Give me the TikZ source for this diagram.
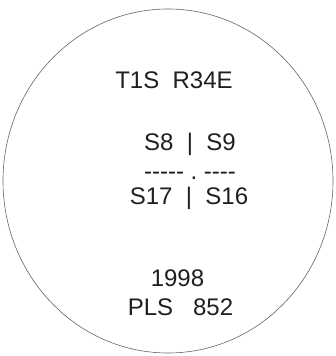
\documentclass[tikz,border=0pt]{standalone}
\usepackage{fontspec}
\setmainfont{Liberation Sans}
\newcommand\hy{-\kern0pt}
\tikzset{
  lbl/.style={anchor=base, inner sep=0pt, text=black!88, font=\fontsize{24}{28}\selectfont},
  rim/.style={draw=black!60, line width=0.6pt}
}
\begin{document}
\begin{tikzpicture}[x=1pt,y=1pt]
\useasboundingbox (0,0) rectangle (335,-356);
\fill[white] (0,0) rectangle (335,-356);
\draw[rim] (168,-181) ellipse [x radius=165, y radius=172];
\node[lbl] (tr) at (174,-88) {T1S~~R34E};
\node[lbl] (top) at (190,-150) {S8~~|~~S9};
\node[lbl] (dash) at (190,-179) {\hy\hy\hy\hy\hy~.~\hy\hy\hy-};
\node[lbl] (bot) at (189,-204) {S17~~|~~S16};
\node[lbl] (yr) at (177.5,-286) {1998};
\node[lbl] (pls) at (180.5,-315) {PLS~~~852};
\end{tikzpicture}
\end{document}
